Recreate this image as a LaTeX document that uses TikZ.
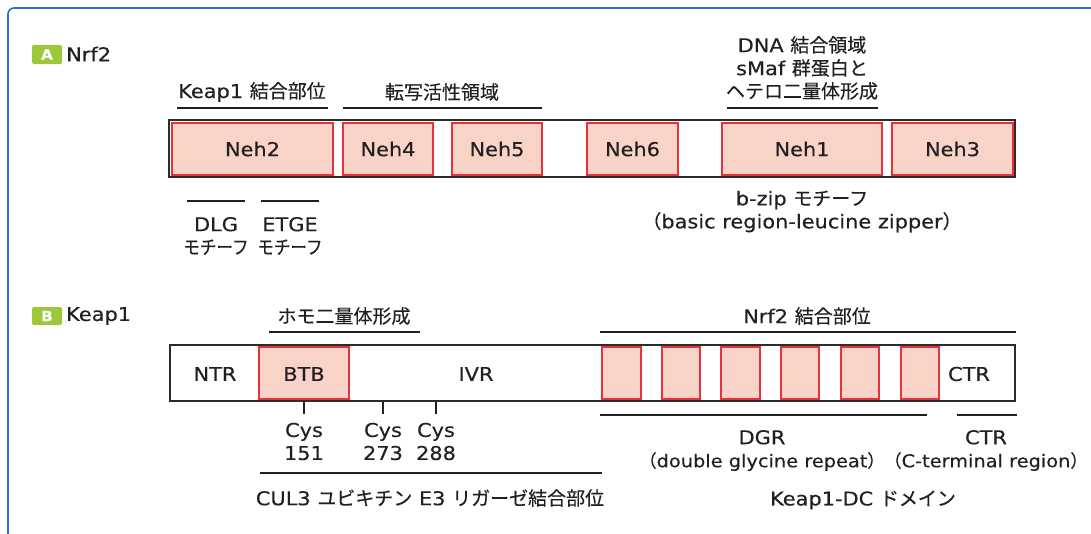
\documentclass[tikz,border=0pt]{standalone}
\usepackage{fontspec}
\setmainfont[FakeStretch=1.1,FakeBold=0.35]{DejaVu Sans}
\newfontfamily\cjk[FakeBold=0.35]{Noto Sans CJK JP}
\newfontfamily\cjknarrow[FakeBold=0.35,FakeStretch=0.87]{Noto Sans CJK JP}
\newcommand\J[1]{{\cjk #1}}
\definecolor{ink}{HTML}{231F20}
\definecolor{barc}{HTML}{2B2B2B}
\definecolor{domred}{HTML}{E5323C}
\definecolor{domfill}{HTML}{F8D3C7}
\definecolor{badgeg}{HTML}{9CC83A}
\definecolor{framec}{HTML}{2E6FC0}
\tikzset{
  txt/.style={inner sep=0pt, font=\fontsize{19}{23}\selectfont, text=ink, align=center},
  dom/.style={draw=domred, fill=domfill, line width=2.2pt},
  bar/.style={draw=barc, fill=white, line width=2.6pt},
  ul/.style={draw=ink, line width=1.9pt},
  thinul/.style={draw=ink, line width=1.5pt},
  badge/.style={fill=badgeg, rounded corners=2pt},
  badgetxt/.style={inner sep=0pt, text=white, font=\fontsize{14}{14}\selectfont\bfseries},
}
\begin{document}
\begin{tikzpicture}[x=1pt,y=-1pt]
\useasboundingbox (0,0) rectangle (1091,533);
% frame
\draw[framec, line width=1.6pt, rounded corners=6pt] (8,545) -- (8,8) -- (1100,8);

% ---------- A: Nrf2 ----------
\fill[badge] (32,45) rectangle (62,64);
\node[badgetxt] (badgeA) at (47,54.5) {A};
\node[txt, anchor=west] (titleA) at (66,54) {Nrf2};

% labels above
\node[txt] (keapbind) at (252,92) {Keap1 \J{結合部位}};
\draw[ul] (177,108) -- (328,108);
\node[txt] (transact) at (442,92) {\J{転写活性領域}};
\draw[ul] (343,108) -- (542,108);
\node[txt] (dnabind) at (802,68) {DNA \J{結合領域}\\sMaf \J{群蛋白と}\\\J{ヘテロ二量体形成}};
\draw[ul] (727,108) -- (878,108);

% bar
\draw[bar] (169,120) rectangle (1015,177);
\draw[dom] (172,123) rectangle (333,175);
\draw[dom] (343,123) rectangle (433,175);
\draw[dom] (452,123) rectangle (542,175);
\draw[dom] (587,123) rectangle (678,175);
\draw[dom] (722,123) rectangle (882,175);
\draw[dom] (892,123) rectangle (1013,175);
\node[txt] (neh2) at (252.5,149) {Neh2};
\node[txt] (neh4) at (388,149) {Neh4};
\node[txt] (neh5) at (497,149) {Neh5};
\node[txt] (neh6) at (632.5,149) {Neh6};
\node[txt] (neh1) at (802,149) {Neh1};
\node[txt] (neh3) at (952.5,149) {Neh3};

% below
\draw[thinul] (187,201) -- (245,201);
\draw[thinul] (261,201) -- (319,201);
\node[txt] (dlg) at (216,236) {DLG\\{\cjknarrow モチーフ}};
\node[txt] (etge) at (290,236) {ETGE\\{\cjknarrow モチーフ}};
\node[txt] (bzip) at (802,211.5) {b-zip \J{モチーフ}\\\J{（}basic region-leucine zipper\J{）}};

% ---------- B: Keap1 ----------
\fill[badge] (32,307) rectangle (62,325);
\node[badgetxt] (badgeB) at (47,316) {B};
\node[txt, anchor=west] (titleB) at (66,316) {Keap1};

\node[txt] (homo) at (344,316) {\J{ホモ二量体形成}};
\draw[ul] (269,332) -- (420,332);
\node[txt] (nrfbind) at (807,316) {Nrf2 \J{結合部位}};
\draw[ul] (600,332) -- (1016,332);

\draw[bar] (170,345) rectangle (1015,401);
\draw[dom] (259,347) rectangle (349,399);
\foreach \a/\b in {602/641, 662/700, 721/760, 781/819, 841/879, 901/939}
  \draw[dom] (\a,347) rectangle (\b,399);
\node[txt] (ntr) at (215,374) {NTR};
\node[txt] (btb) at (304,374) {BTB};
\node[txt] (ivr) at (476,374) {IVR};
\node[txt] (ctrin) at (969,374) {CTR};

% cys
\draw[thinul] (304,402) -- (304,414);
\draw[thinul] (383,402) -- (383,414);
\draw[thinul] (436,402) -- (436,414);
\node[txt] (c151) at (304,441.5) {Cys\\151};
\node[txt] (c273) at (383,441.5) {Cys\\273};
\node[txt] (c288) at (436,441.5) {Cys\\288};
\draw[ul] (260,473) -- (602,473);
\node[txt] (cul3) at (430,498) {CUL3 \J{ユビキチン} E3 \J{リガーゼ結合部位}};

\draw[ul] (600,415) -- (927,415);
\draw[ul] (957,415) -- (1017,415);
\node[txt] (dgr) at (762,450.5) {DGR\\{\fontsize{17.6}{23}\selectfont\J{（}double glycine repeat\J{）}}};
\node[txt] (ctr) at (986,450.5) {CTR\\{\fontsize{17.6}{23}\selectfont\J{（}C-terminal region\J{）}}};
\node[txt] (dc) at (863,500) {Keap1-DC \J{ドメイン}};
\end{tikzpicture}
\end{document}
